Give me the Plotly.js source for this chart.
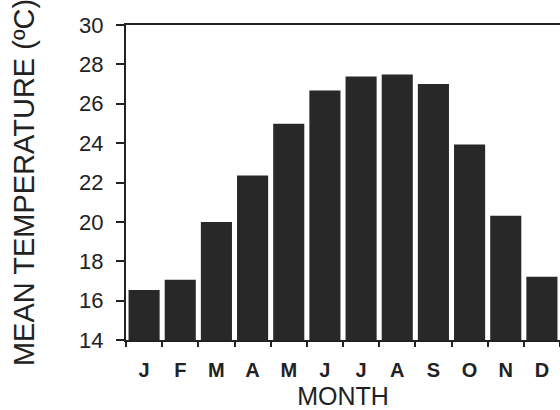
<!DOCTYPE html>
<html>
<head>
<meta charset="utf-8">
<script src="https://cdn.plot.ly/plotly-3.0.1.min.js"></script>
<style>
html,body{margin:0;padding:0;background:#fff;}
#chart{width:560px;height:410px;}
</style>
</head>
<body>
<div id="chart"></div>
<script>
const months = ["J","F","M","A","M ","J ","J  ","A ","S","O","N","D"];
const monthLabels = ["J","F","M","A","M","J","J","A","S","O","N","D"];
const meanTemp = [16.54, 17.06, 20.0, 22.36, 24.98, 26.67, 27.38, 27.49, 27.0, 23.93, 20.31, 17.21];
const yTicks = [14,16,18,20,22,24,26,28,30];

const ink = "#222222";
const trace = {
  type: "bar",
  x: months,
  y: meanTemp,
  marker: {color: "#282828", line: {width: 0}},
  hoverinfo: "x+y"
};

const layout = {
  width: 560, height: 410,
  margin: {l: 126, r: 0, t: 25, b: 70, pad: 0},
  paper_bgcolor: "#ffffff",
  plot_bgcolor: "#ffffff",
  bargap: 0.14,
  showlegend: false,
  font: {family: "Liberation Sans, Arial, sans-serif", color: ink},
  xaxis: {
    type: "category",
    tickmode: "array",
    tickvals: months,
    ticktext: monthLabels,
    tickson: "boundaries",
    ticks: "outside", ticklen: 5, tickwidth: 2, tickcolor: ink,
    ticklabelstandoff: 11,
    showline: true, linewidth: 2, linecolor: ink, mirror: true,
    showgrid: false, zeroline: false,
    tickfont: {size: 20, color: ink, weight: "bold"},
    title: {text: "MONTH", font: {size: 25, color: ink}, standoff: 7},
    automargin: false
  },
  yaxis: {
    range: [14, 30],
    tickmode: "array",
    tickvals: yTicks,
    ticks: "outside", ticklen: 8, tickwidth: 2, tickcolor: ink,
    ticklabelstandoff: 8,
    showline: true, linewidth: 2, linecolor: ink, mirror: false,
    showgrid: false, zeroline: false,
    tickfont: {size: 22, color: ink},
    title: {text: "MEAN TEMPERATURE (ºC)\u00a0\u00a0\u00a0", font: {size: 29, color: ink}, standoff: 36},
    automargin: false
  }
};

Plotly.newPlot("chart", [trace], layout, {displayModeBar: false, staticPlot: true});
</script>
</body>
</html>
